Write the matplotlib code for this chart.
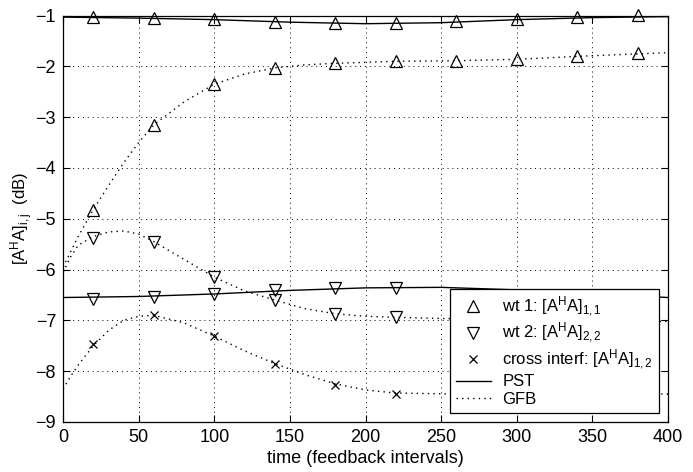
import numpy as np
import matplotlib
matplotlib.use('Agg')
import matplotlib.pyplot as plt
from matplotlib.lines import Line2D

plt.rcParams['font.family'] = ['Liberation Sans', 'DejaVu Sans']
plt.rcParams['mathtext.fontset'] = 'custom'
plt.rcParams['mathtext.rm'] = 'Liberation Sans'
plt.rcParams['mathtext.it'] = 'Liberation Sans'
plt.rcParams['font.size'] = 13

# marker positions (time, feedback intervals)
t_mark = [20, 60, 100, 140, 180, 220, 260, 300, 340, 380]
t_mark_lo = [20, 60, 100, 140, 180, 220]  # the rest is hidden by the legend

# PST markers
pst_wt1_mark = [-1.02, -1.05, -1.07, -1.12, -1.14, -1.14, -1.10, -1.06, -1.02, -0.99]
pst_wt2_mark = [-6.57, -6.54, -6.49, -6.41, -6.37, -6.37]

# GFB markers
gfb_wt1_mark = [-4.82, -3.15, -2.35, -2.03, -1.94, -1.89, -1.89, -1.86, -1.80, -1.74]
gfb_wt2_mark = [-5.37, -5.45, -6.15, -6.60, -6.88, -6.93]
gfb_x_mark = [-7.47, -6.89, -7.31, -7.85, -8.27, -8.44]

# curves
t_pst = [0, 50, 100, 150, 200, 250, 300, 350, 400]
pst_wt1 = [-1.03, -1.05, -1.08, -1.13, -1.16, -1.14, -1.08, -1.04, -1.02]
pst_wt2 = [-6.55, -6.53, -6.48, -6.41, -6.36, -6.35, -6.40, -6.48, -6.55]

t_gfb = [0, 5, 10, 20, 30, 40, 50, 60, 80, 100, 120, 140, 160, 180, 200, 220,
         260, 300, 350, 400]
gfb_wt1 = [-5.95, -5.65, -5.35, -4.82, -4.35, -3.90, -3.50, -3.15, -2.70, -2.35,
           -2.15, -2.03, -1.97, -1.94, -1.92, -1.90, -1.89, -1.86, -1.79, -1.73]
gfb_wt2 = [-6.05, -5.75, -5.52, -5.35, -5.26, -5.24, -5.30, -5.45, -5.80, -6.15,
           -6.42, -6.60, -6.77, -6.87, -6.92, -6.94, -6.97, -7.00, -7.02, -7.02]
gfb_x = [-8.35, -8.10, -7.88, -7.50, -7.20, -7.00, -6.92, -6.90, -7.05, -7.31,
         -7.60, -7.85, -8.07, -8.25, -8.37, -8.43, -8.45, -8.45, -8.45, -8.45]

fig = plt.figure(figsize=(6.93, 4.72), dpi=100)
ax = fig.add_axes([0.091, 0.106, 0.873, 0.861])

dot = (0, (1, 3))
ax.plot(t_pst, pst_wt1, color='k', lw=1)
ax.plot(t_pst, pst_wt2, color='k', lw=1)
ax.plot(t_gfb, gfb_wt1, color='k', lw=1, ls=dot)
ax.plot(t_gfb, gfb_wt2, color='k', lw=1, ls=dot)
ax.plot(t_gfb, gfb_x, color='k', lw=1, ls=dot)

mk = dict(ls='none', mfc='none', mec='k', mew=0.9, clip_on=False, zorder=5)
ax.plot(t_mark, pst_wt1_mark, marker='^', ms=9, **mk)
ax.plot(t_mark, gfb_wt1_mark, marker='^', ms=9, **mk)
ax.plot(t_mark_lo, pst_wt2_mark, marker='v', ms=9, **mk)
ax.plot(t_mark_lo, gfb_wt2_mark, marker='v', ms=9, **mk)
ax.plot(t_mark_lo, gfb_x_mark, marker='x', ms=6, **mk)

ax.set_xlim(0, 400)
ax.set_ylim(-9, -1)
ax.set_xticks(range(0, 401, 50))
ax.set_yticks(range(-9, 0))
ax.set_yticklabels(['\u22129', '\u22128', '\u22127', '\u22126', '\u22125', '\u22124',
                    '\u22123', '\u22122', '\u22121'])
ax.grid(True, color='k', ls=(0, (1, 4)), lw=0.7)
ax.tick_params(direction='in', top=True, right=True, length=5, labelsize=13, pad=5)
for s in ax.spines.values():
    s.set_linewidth(0.9)

ax.set_xlabel('time (feedback intervals)', fontsize=13)
ax.xaxis.set_label_coords(0.5, -0.068)
ax.set_ylabel(r'$[\mathrm{A}^\mathrm{H}\mathrm{A}]_{i,j}$  (dB)', fontsize=12)
ax.yaxis.set_label_coords(-0.047, 0.5)

handles = [
    Line2D([], [], ls='none', marker='^', ms=9, mfc='none', mec='k', mew=0.9),
    Line2D([], [], ls='none', marker='v', ms=9, mfc='none', mec='k', mew=0.9),
    Line2D([], [], ls='none', marker='x', ms=6, mec='k', mew=0.9),
    Line2D([], [], color='k', lw=1),
    Line2D([], [], color='k', lw=1, ls=dot),
]
labels = [r'wt 1: $[\mathrm{A}^\mathrm{H}\mathrm{A}]_{1,1}$',
          r'wt 2: $[\mathrm{A}^\mathrm{H}\mathrm{A}]_{2,2}$',
          r'cross interf: $[\mathrm{A}^\mathrm{H}\mathrm{A}]_{1,2}$',
          'PST', 'GFB']
leg = ax.legend(handles, labels, loc='lower right', fontsize=12, fancybox=False,
                framealpha=1, edgecolor='k', borderaxespad=0.55, labelspacing=0.15,
                handlelength=2.1, handletextpad=0.7, borderpad=0.35)
leg.get_frame().set_linewidth(0.9)
leg.set_zorder(10)

fig.savefig('out.png', dpi=100)
